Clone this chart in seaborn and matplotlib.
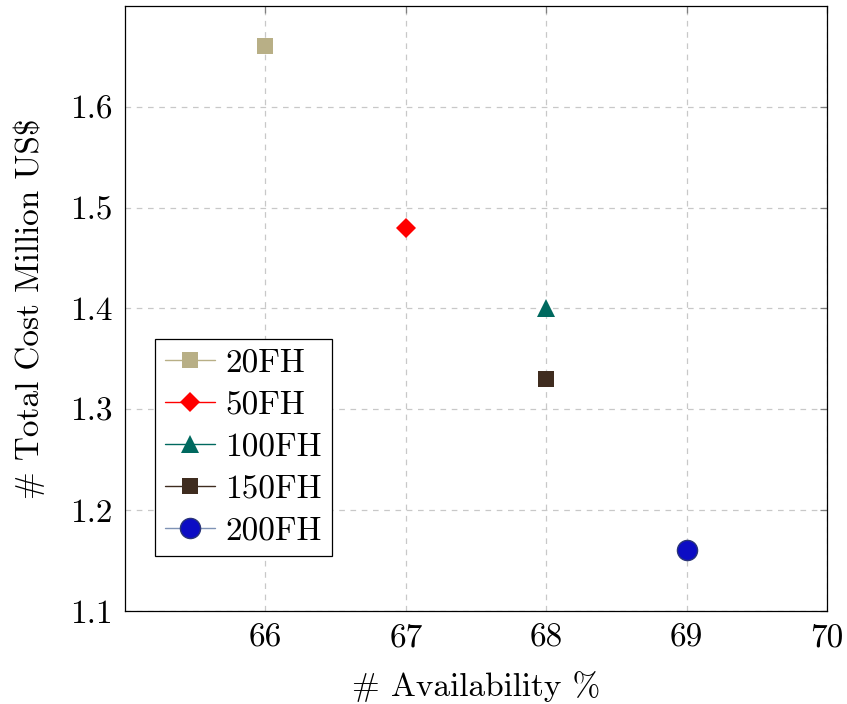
"""
plot.py — Custo total vs. disponibilidade por intervalo de inspeção (FH).

Saída: out.png (847x704)
"""

import matplotlib
matplotlib.use("Agg")
import matplotlib.pyplot as plt
import seaborn as sns

# ---------------------------------------------------------------------------
# Dados
# ---------------------------------------------------------------------------

SERIES       = ["20FH", "50FH", "100FH", "150FH", "200FH"]
AVAILABILITY = [66, 67, 68, 68, 69]
TOTAL_COST   = [1.66, 1.48, 1.40, 1.33, 1.16]

X_TICKS = [66, 67, 68, 69, 70]
Y_TICKS = [1.1, 1.2, 1.3, 1.4, 1.5, 1.6]

# ---------------------------------------------------------------------------
# Estilo
# ---------------------------------------------------------------------------

STYLES = {
    "20FH":  dict(color="#b8af86", marker="s", markersize=11.5, mec="#b8af86"),
    "50FH":  dict(color="#ff0000", marker="D", markersize=10,   mec="#ff0000"),
    "100FH": dict(color="#00695f", marker="^", markersize=13,   mec="#00695f"),
    "150FH": dict(color="#3f2c1f", marker="s", markersize=11.5, mec="#3f2c1f"),
    "200FH": dict(color="#0c0cc4", marker="o", markersize=14.5, mec="#2a3578",
                  line_color="#7f93b5"),
}

FONT_SIZE = 24

sns.set_style("white")
plt.rcParams["font.family"] = ["cmr10", "DejaVu Sans"]
plt.rcParams["mathtext.fontset"] = "cm"
plt.rcParams["axes.formatter.use_mathtext"] = True
plt.rcParams["font.size"] = FONT_SIZE
plt.rcParams["text.color"] = "black"
plt.rcParams["axes.labelcolor"] = "black"
plt.rcParams["xtick.labelcolor"] = "black"
plt.rcParams["ytick.labelcolor"] = "black"


def main() -> None:
    fig = plt.figure(figsize=(8.47, 7.04), dpi=100)
    ax = fig.add_axes([0.1476, 0.1321, 0.9764 - 0.1476, 0.9915 - 0.1321])

    for name, x, y in zip(SERIES, AVAILABILITY, TOTAL_COST):
        st = STYLES[name]
        sns.lineplot(
            x=[x], y=[y], ax=ax, label=name,
            color=st.get("line_color", st["color"]), linewidth=1.0,
            marker=st["marker"], markersize=st["markersize"],
            markerfacecolor=st["color"], markeredgecolor=st["mec"],
            markeredgewidth=1.0 if name == "200FH" else 0.0,
            zorder=3,
        )

    ax.set_xlim(65, 70)
    ax.set_ylim(1.1, 1.7)
    ax.set_xticks(X_TICKS)
    ax.set_yticks(Y_TICKS)
    ax.set_xticklabels([str(v) for v in X_TICKS])
    ax.set_yticklabels([f"{v:.1f}" for v in Y_TICKS])

    ax.grid(True, color="#c8c8c8", linestyle=(0, (4.5, 4.5)), linewidth=0.9)
    ax.set_axisbelow(True)
    ax.tick_params(direction="in", length=5, width=0.9, color="#7f7f7f",
                   top=True, right=True, labelsize=FONT_SIZE, pad=9)
    for sp in ax.spines.values():
        sp.set_color("black")
        sp.set_linewidth(0.9)

    ax.set_xlabel("# Availability %", fontsize=FONT_SIZE, labelpad=13)
    ax.set_ylabel("# Total Cost Million US\\$", fontsize=FONT_SIZE, labelpad=18)

    leg = ax.legend(
        loc="lower left", bbox_to_anchor=(0.043, 0.091), borderaxespad=0,
        fontsize=FONT_SIZE, frameon=True, fancybox=False, framealpha=1,
        edgecolor="black", handlelength=1.5, handletextpad=0.3,
        labelspacing=0.38, borderpad=0.3,
    )
    leg.get_frame().set_linewidth(0.9)

    fig.savefig("out.png", dpi=100)
    plt.close(fig)


if __name__ == "__main__":
    main()
